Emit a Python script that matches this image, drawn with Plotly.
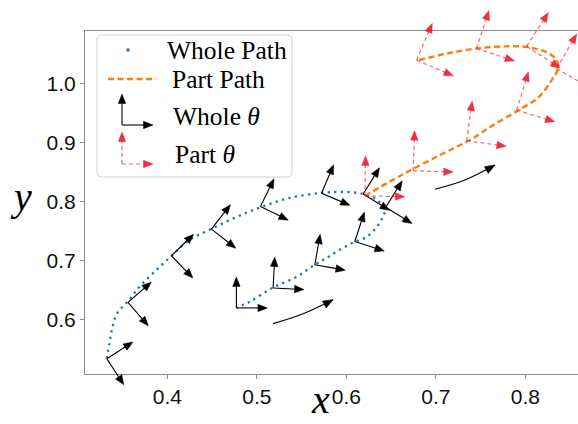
import math
import plotly.graph_objects as go

# ---------------- data ----------------
whole_x = [0.3321, 0.3355, 0.3388, 0.3444, 0.3556, 0.3690, 0.3880, 0.4048, 0.4249, 0.4495,
           0.4775, 0.5054, 0.5367, 0.5725, 0.5960, 0.6183, 0.6340, 0.6429, 0.6407, 0.6340,
           0.6228, 0.6094, 0.5926, 0.5781, 0.5647, 0.5446, 0.5178, 0.4920, 0.4775]
whole_y = [0.5341, 0.5611, 0.5882, 0.6118, 0.6304, 0.6558, 0.6845, 0.7082, 0.7352, 0.7538,
           0.7741, 0.7910, 0.8062, 0.8146, 0.8163, 0.8129, 0.8028, 0.7859, 0.7741, 0.7572,
           0.7403, 0.7318, 0.7183, 0.7048, 0.6930, 0.6727, 0.6541, 0.6304, 0.6203]

part_x = [0.6206, 0.6597, 0.7044, 0.7364, 0.7621, 0.7923, 0.8147, 0.8293, 0.8367, 0.8349,
          0.8260, 0.8036, 0.7812, 0.7477, 0.7141, 0.6806]
part_y = [0.8095, 0.8433, 0.8788, 0.9030, 0.9278, 0.9549, 0.9769, 1.0056, 1.0259, 1.0394,
          1.0513, 1.0614, 1.0631, 1.0597, 1.0513, 1.0394]

# frames of the whole path: origin and heading (deg, screen) of the "y" arrow
whole_fx = [0.3325, 0.3560, 0.4045, 0.4492, 0.5040, 0.5722, 0.6187, 0.6440, 0.6094, 0.5647, 0.5181, 0.4771]
whole_fy = [0.5336, 0.6292, 0.7082, 0.7533, 0.7915, 0.8141, 0.8129, 0.7905, 0.7323, 0.6929, 0.6536, 0.6198]
whole_theta = [33, 41, 44, 52, 64, 67, 58, 58, 72, 80, 87, 90]

# frames of the part path
part_fx = [0.6206, 0.6746, 0.7343, 0.7902, 0.8013, 0.8349, 0.7454, 0.6784]
part_fy = [0.8095, 0.8523, 0.9030, 0.9549, 1.0631, 1.0253, 1.0592, 1.0394]
part_theta = [89, 88, 82, 73, 57, 60, 72, 67]

# motion-direction cues
cue1_x = [0.5181, 0.5516, 0.5851]
cue1_y = [0.5932, 0.6101, 0.6338]
cue2_x = [0.6988, 0.7324, 0.7659]
cue2_y = [0.8209, 0.8366, 0.8619]

x_ticks = [0.4, 0.5, 0.6, 0.7, 0.8]
y_ticks = [0.6, 0.7, 0.8, 0.9, 1.0]
X_RANGE = [0.3080, 0.8587]
Y_RANGE = [0.5079, 1.0889]

# ---------------- layout geometry ----------------
W, H = 578, 424
L, T, B = 85, 31, 50
pw, ph = W - L, H - T - B
ux = (X_RANGE[1] - X_RANGE[0]) / pw
uy = (Y_RANGE[1] - Y_RANGE[0]) / ph
X2 = [X_RANGE[0] - L * ux, X_RANGE[1]]
Y2 = [Y_RANGE[0] - B * uy, Y_RANGE[1] + T * uy]


def px2d(px, py):
    return X2[0] + px * ux, Y2[1] - py * uy


def arrow(ox, oy, ang, length, hl, hw, shafts, heads):
    c, s = math.cos(math.radians(ang)), math.sin(math.radians(ang))
    tx, ty = ox + length * c * ux, oy + length * s * uy
    ex, ey = ox + (length - hl * 0.8) * c * ux, oy + (length - hl * 0.8) * s * uy
    shafts[0] += [ox, ex, None]
    shafts[1] += [oy, ey, None]
    bx, by = tx - hl * c * ux, ty - hl * s * uy
    lx, ly = bx - hw / 2 * s * ux, by + hw / 2 * c * uy
    rx, ry = bx + hw / 2 * s * ux, by - hw / 2 * c * uy
    heads[0] += [tx, lx, rx, tx, None]
    heads[1] += [ty, ly, ry, ty, None]


BLACK = "black"
RED_LINE = "rgba(238,40,60,0.7)"
RED_HEAD = "rgba(236,28,48,0.9)"

wsh, whd = [[], []], [[], []]
for x, y, t in zip(whole_fx, whole_fy, whole_theta):
    arrow(x, y, t, 31, 9.5, 7.5, wsh, whd)
    arrow(x, y, t - 90, 31, 9.5, 7.5, wsh, whd)

psh, phd = [[], []], [[], []]
for x, y, t in zip(part_fx, part_fy, part_theta):
    arrow(x, y, t, 40, 9.5, 7.5, psh, phd)
    arrow(x, y, t - 90, 40, 9.5, 7.5, psh, phd)

# cue heads
chd = [[], []]
for cx, cy in ((cue1_x, cue1_y), (cue2_x, cue2_y)):
    dxp = (cx[2] - cx[1]) / ux
    dyp = (cy[2] - cy[1]) / uy
    ang = math.degrees(math.atan2(dyp, dxp)) + 4
    hl = 10
    c, s = math.cos(math.radians(ang)), math.sin(math.radians(ang))
    ox, oy = cx[2] - hl * c * ux, cy[2] - hl * s * uy
    arrow(ox, oy, ang, hl, hl, 8, [[], []], chd)

# legend items (pixel positions converted to overlay coords)
lsh, lhd = [[], []], [[], []]
lo = px2d(122, 125)
arrow(lo[0], lo[1], 90, 31, 9.5, 7.5, lsh, lhd)
arrow(lo[0], lo[1], 0, 31, 9.5, 7.5, lsh, lhd)
lpsh, lphd = [[], []], [[], []]
lpo = px2d(122, 164)
arrow(lpo[0], lpo[1], 90, 32, 9.5, 7.5, lpsh, lphd)
arrow(lpo[0], lpo[1], 0, 31, 9.5, 7.5, lpsh, lphd)

fig = go.Figure()
# anchor trace so the main (spine/tick) axes are drawn
fig.add_trace(go.Scatter(x=[None], y=[None], xaxis="x", yaxis="y", showlegend=False, hoverinfo="skip"))

ov = dict(xaxis="x2", yaxis="y2", showlegend=False, hoverinfo="skip")

fig.add_trace(go.Scatter(x=whole_x, y=whole_y, mode="lines",
                         line=dict(color="#1f77b4", width=2.3, dash="2.3px,4.3px", shape="spline"), **ov))
fig.add_trace(go.Scatter(x=part_x, y=part_y, mode="lines",
                         line=dict(color="#ff7f0e", width=2.4, dash="6px,3.5px", shape="spline"), **ov))
fig.add_trace(go.Scatter(x=wsh[0], y=wsh[1], mode="lines", line=dict(color=BLACK, width=1.1), **ov))
fig.add_trace(go.Scatter(x=whd[0], y=whd[1], mode="lines", fill="toself", fillcolor=BLACK,
                         line=dict(color=BLACK, width=0.5), **ov))
fig.add_trace(go.Scatter(x=psh[0], y=psh[1], mode="lines",
                         line=dict(color=RED_LINE, width=1.2, dash="4px,3px"), **ov))
fig.add_trace(go.Scatter(x=phd[0], y=phd[1], mode="lines", fill="toself", fillcolor=RED_HEAD,
                         line=dict(color=RED_HEAD, width=0.5), **ov))
for cx, cy in ((cue1_x, cue1_y), (cue2_x, cue2_y)):
    fig.add_trace(go.Scatter(x=cx, y=cy, mode="lines",
                             line=dict(color=BLACK, width=1.1, shape="spline"), **ov))
fig.add_trace(go.Scatter(x=chd[0], y=chd[1], mode="lines", fill="toself", fillcolor=BLACK,
                         line=dict(color=BLACK, width=0.5), **ov))

# legend graphics
d1 = px2d(128, 50)
fig.add_trace(go.Scatter(x=[d1[0]], y=[d1[1]], mode="markers",
                         marker=dict(color="#1f77b4", size=3.5), **ov))
la, lb = px2d(108, 79), px2d(156, 79)
fig.add_trace(go.Scatter(x=[la[0], lb[0]], y=[la[1], lb[1]], mode="lines",
                         line=dict(color="#ff7f0e", width=2.4, dash="6px,3.5px"), **ov))
fig.add_trace(go.Scatter(x=lsh[0], y=lsh[1], mode="lines", line=dict(color=BLACK, width=1.1), **ov))
fig.add_trace(go.Scatter(x=lhd[0], y=lhd[1], mode="lines", fill="toself", fillcolor=BLACK,
                         line=dict(color=BLACK, width=0.5), **ov))
fig.add_trace(go.Scatter(x=lpsh[0], y=lpsh[1], mode="lines",
                         line=dict(color=RED_LINE, width=1.2, dash="4px,3px"), **ov))
fig.add_trace(go.Scatter(x=lphd[0], y=lphd[1], mode="lines", fill="toself", fillcolor=RED_HEAD,
                         line=dict(color=RED_HEAD, width=0.5), **ov))


def pp(px, py):
    return px / W, 1 - py / H


# legend box (rounded)
x0, y0, x1, y1, r = 97, 35, 292, 177, 5
path = (f"M {pp(x0 + r, y0)[0]},{pp(x0 + r, y0)[1]} L {pp(x1 - r, y0)[0]},{pp(x1 - r, y0)[1]} "
        f"Q {pp(x1, y0)[0]},{pp(x1, y0)[1]} {pp(x1, y0 + r)[0]},{pp(x1, y0 + r)[1]} "
        f"L {pp(x1, y1 - r)[0]},{pp(x1, y1 - r)[1]} "
        f"Q {pp(x1, y1)[0]},{pp(x1, y1)[1]} {pp(x1 - r, y1)[0]},{pp(x1 - r, y1)[1]} "
        f"L {pp(x0 + r, y1)[0]},{pp(x0 + r, y1)[1]} "
        f"Q {pp(x0, y1)[0]},{pp(x0, y1)[1]} {pp(x0, y1 - r)[0]},{pp(x0, y1 - r)[1]} "
        f"L {pp(x0, y0 + r)[0]},{pp(x0, y0 + r)[1]} "
        f"Q {pp(x0, y0)[0]},{pp(x0, y0)[1]} {pp(x0 + r, y0)[0]},{pp(x0 + r, y0)[1]} Z")
fig.add_shape(type="path", path=path, xref="paper", yref="paper", layer="below",
              line=dict(color="#d0d0d0", width=1), fillcolor="white")

SERIF = "Liberation Serif"
ann = []
for txt, px, py in (("Whole Path", 165, 51), ("Part Path", 170, 80),
                    ("Whole <i>θ</i>", 171, 116), ("Part <i>θ</i>", 173, 154)):
    ax_, ay_ = pp(px, py)
    ann.append(dict(text=txt, x=ax_, y=ay_, xref="paper", yref="paper", xanchor="left",
                    yanchor="middle", showarrow=False, font=dict(family=SERIF, size=25.5, color="black")))
xa, _ = pp(320, 0)
ann.append(dict(text="<i>x</i>", x=xa, y=0, xref="paper", yref="paper", showarrow=False,
                xanchor="center", yanchor="bottom",
                font=dict(family=SERIF, size=40, color="black")))
_, ya = pp(0, 197)
ann.append(dict(text="<i>y</i>", x=8 / W, y=ya, xref="paper", yref="paper", showarrow=False,
                xanchor="left", yanchor="middle",
                font=dict(family=SERIF, size=40, color="black")))

SPINE = "#8a8a8a"
TICKFONT = dict(family="Liberation Sans", size=21, color="#111111")
fig.update_layout(
    width=W, height=H, margin=dict(l=0, r=0, t=0, b=0),
    paper_bgcolor="white", plot_bgcolor="rgba(0,0,0,0)",
    showlegend=False, annotations=ann,
    xaxis=dict(domain=[L / W, 1], range=X_RANGE, tickvals=x_ticks, ticktext=[f"{v:.1f}" for v in x_ticks],
               showgrid=False, zeroline=False, showline=True, linecolor=SPINE, linewidth=1.2,
               mirror=True, ticks="outside", ticklen=4, tickcolor=SPINE, anchor="y",
               tickfont=TICKFONT),
    yaxis=dict(domain=[B / H, 1 - T / H], range=Y_RANGE, tickvals=y_ticks, ticktext=[f"{v:.1f}" for v in y_ticks],
               showgrid=False, zeroline=False, showline=True, linecolor=SPINE, linewidth=1.2,
               mirror=False, ticks="outside", ticklen=4, tickcolor=SPINE, anchor="x",
               tickfont=TICKFONT),
    xaxis2=dict(domain=[0, 1], range=X2, visible=False, anchor="y2"),
    yaxis2=dict(domain=[0, 1], range=Y2, visible=False, anchor="x2"),
)

fig.write_html("out.html")
